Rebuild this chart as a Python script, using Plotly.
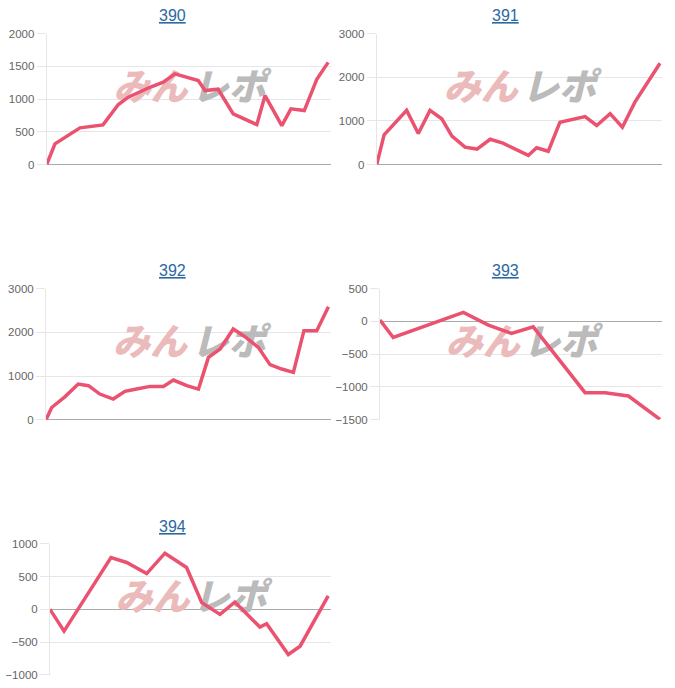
import plotly.graph_objects as go

# ---- data (x = position along the hidden time axis, 0..100) ----
titles = ["390", "391", "392", "393", "394"]

x390 = [0, 2.9, 11.7, 19.8, 25.2, 28.7, 36.3, 41.0, 45.1, 53.3, 55.7, 60.3, 65.6, 73.9, 76.8, 82.7, 85.9, 90.6, 95.0, 99.0]
y390 = [0, 316, 560, 606, 916, 1028, 1180, 1257, 1385, 1282, 1130, 1150, 774, 610, 1053, 595, 850, 824, 1300, 1560]

x391 = [0, 2.6, 10.5, 14.6, 18.7, 22.8, 26.4, 31.0, 35.2, 39.8, 44.3, 53.2, 56.1, 60.2, 64.3, 69.0, 73.1, 77.2, 81.9, 86.2, 90.6, 99.4]
y391 = [0, 680, 1240, 710, 1240, 1050, 650, 400, 355, 580, 490, 210, 385, 305, 970, 1050, 1100, 895, 1165, 856, 1430, 2320]

x392 = [0, 2.0, 6.7, 11.3, 14.9, 18.9, 23.6, 27.7, 31.8, 36.5, 41.2, 44.7, 49.4, 53.5, 57.0, 61.1, 65.7, 69.8, 74.5, 78.6, 82.7, 86.8, 90.5, 95.0, 99.1]
y392 = [0, 280, 530, 817, 779, 588, 473, 649, 702, 763, 763, 908, 779, 702, 1427, 1618, 2076, 1901, 1656, 1260, 1160, 1084, 2038, 2038, 2588]

x393 = [0, 4.7, 29.6, 38.5, 46.7, 54.4, 72.8, 79.9, 88.2, 99.4]
y393 = [20, -245, 138, -55, -184, -82, -1087, -1087, -1138, -1495]

x394 = [0, 5.0, 21.7, 27.3, 34.4, 40.9, 48.6, 54.0, 60.5, 65.8, 74.7, 77.1, 84.8, 89.0, 99.0]
y394 = [0, -332, 791, 715, 546, 857, 638, 103, -77, 112, -271, -219, -689, -562, 204]

y_ranges = [[0, 2000], [0, 3000], [0, 3000], [-1500, 500], [-1000, 1000]]
y_dticks = [500, 1000, 1000, 500, 500]

series_x = [x390, x391, x392, x393, x394]
series_y = [y390, y391, y392, y393, y394]

W, H = 675, 688


def vy(p):
    # calibrated vertical pixel -> layout pixel
    return (p - 5.5) / 0.982


# plot-area pixel boxes (left, right, top, bottom)
boxes = [
    (46.7, 331, 33, 164),
    (376.7, 661.7, 33, 164),
    (46, 331, 288, 419),
    (380, 661.7, 288, 419),
    (50, 331, 543, 674),
]
title_pos = [(172, 15), (505, 15), (172, 270), (505, 270), (172, 526)]

LINE = "rgb(234, 82, 112)"
GRID = "#e6e6e6"
ZERO = "#aaaaaa"
TICKFONT = dict(family="Liberation Sans, Arial, sans-serif", size=11.5, color="#666666")

fig = go.Figure()
layout = dict(
    width=W, height=H,
    margin=dict(l=0, r=0, t=0, b=0),
    paper_bgcolor="white", plot_bgcolor="white",
    showlegend=False,
    annotations=[],
)

for i in range(5):
    n = "" if i == 0 else str(i + 1)
    xa, ya = "x" + n, "y" + n
    l, r, t, b = boxes[i]
    lo, hi = y_ranges[i]
    # watermark (drawn first so the line sits on top)
    wy = lo + 0.562 * (hi - lo)
    fig.add_trace(go.Scatter(
        x=[36.5], y=[wy], mode="text", text=["みん"], xaxis=xa, yaxis=ya,
        textposition="middle center", hoverinfo="skip",
        textfont=dict(family="Noto Sans CJK JP", size=37, color="#ebbaba",
                      weight=900, style="italic"),
    ))
    fig.add_trace(go.Scatter(
        x=[64], y=[wy], mode="text", text=["レポ"], xaxis=xa, yaxis=ya,
        textposition="middle center", hoverinfo="skip",
        textfont=dict(family="Noto Sans CJK JP", size=37, color="#bbbbbb",
                      weight=900, style="italic"),
    ))
    fig.add_trace(go.Scatter(
        x=series_x[i], y=series_y[i], mode="lines", xaxis=xa, yaxis=ya,
        line=dict(color=LINE, width=3.5), hoverinfo="skip",
    ))
    layout["xaxis" + n] = dict(
        domain=[l / W, r / W], anchor=ya, range=[0, 100],
        showgrid=False, zeroline=False, showticklabels=False,
        showline=False, ticks="", fixedrange=True,
    )
    layout["yaxis" + n] = dict(
        domain=[1 - vy(b) / H, 1 - vy(t) / H], anchor=xa, range=[lo, hi],
        dtick=y_dticks[i], tick0=0,
        showgrid=True, gridcolor=GRID, gridwidth=1,
        zeroline=True, zerolinecolor=ZERO, zerolinewidth=1,
        showline=True, linecolor=GRID, linewidth=1,
        ticks="outside", ticklen=9, tickcolor=GRID,
        tickfont=TICKFONT, fixedrange=True,
    )
    tx, ty = title_pos[i]
    layout["annotations"].append(dict(
        text="<u>" + titles[i] + "</u>", xref="paper", yref="paper",
        x=tx / W, y=1 - vy(ty) / H, xanchor="center", yanchor="middle",
        showarrow=False,
        font=dict(family="Liberation Sans, Arial, sans-serif", size=16, color="#2a69a4"),
    ))

fig.update_layout(**layout)
fig.write_html("out.html")
